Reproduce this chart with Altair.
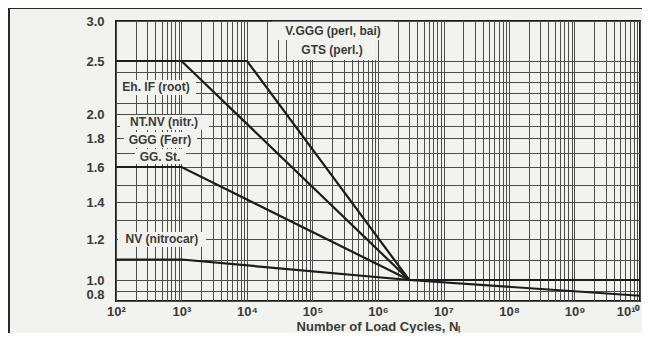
import altair as alt
import pandas as pd

# ---- curve data (number of load cycles N_L, life factor Y_NT) ----
top_N = [1e2, 1e4, 3e6]          # St, V, GGG (perl, bai), GTS (perl.)
top_Y = [2.5, 2.5, 1.0]
root_N = [1e2, 1e3, 3e6]         # Eh, IF (root)
root_Y = [2.5, 2.5, 1.0]
nitr_N = [1e2, 1e3, 3e6]         # NT, NV (nitr.), GGG (ferr), GG, St
nitr_Y = [1.6, 1.6, 1.0]
nitrocar_N = [1e2, 1e3, 3e6]     # NV (nitrocar)
nitrocar_Y = [1.1, 1.1, 1.0]
opt_N = [3e6, 1e10]              # long life, optimum
opt_Y = [1.0, 1.0]
std_N = [3e6, 1e10]              # long life, standard
std_Y = [1.0, 0.85]

rows = []
for name, ns, ys in [("top", top_N, top_Y), ("root", root_N, root_Y),
                     ("nitr", nitr_N, nitr_Y), ("nitrocar", nitrocar_N, nitrocar_Y),
                     ("opt", opt_N, opt_Y), ("std", std_N, std_Y)]:
    for n, y in zip(ns, ys):
        rows.append({"series": name, "N": n, "Y": y})
df = pd.DataFrame(rows)

# ---- annotation labels (text, anchor, white box extents) ----
ann_text = ["V.GGG (perl, bai)", "GTS (perl.)", "Eh. IF (root)", "NT.NV (nitr.)",
            "GGG (Ferr)", "GG. St.", "NV (nitrocar)"]
ann_x = [205600, 198600, 408, 541, 470, 470, 503]
ann_y = [2.875, 2.6375, 2.255, 1.933, 1.786, 1.669, 1.2]
box_x0 = [24100, 45300, 103.6, 115, 132, 195, 107]
box_x1 = [1754000, 931000, 1663, 2630, 1725, 1172, 2366]
box_y0 = [2.7625, 2.5125, 2.179, 1.867, 1.731, 1.621, 1.161]
box_y1 = [2.99, 2.7625, 2.321, 1.992, 1.85, 1.724, 1.238]
ann = pd.DataFrame({"label": ann_text, "x": ann_x, "y": ann_y,
                    "x0": box_x0, "x1": box_x1, "y0": box_y0, "y1": box_y1})

# ---- axes ----
decades = [1e2, 1e3, 1e4, 1e5, 1e6, 1e7, 1e8, 1e9, 1e10]
minor_mult = [1, 2, 3, 4, 5, 6, 7, 8, 9]
x_grid = [m * d for d in decades[:-1] for m in minor_mult] + [decades[-1]]
y_labels = [0.8, 1.0, 1.2, 1.4, 1.6, 1.8, 2.0, 2.5, 3.0]
y_grid = [0.8, 0.9, 1.0, 1.1, 1.2, 1.3, 1.4, 1.5, 1.6, 1.7, 1.8, 1.9, 2.0,
          2.1, 2.2, 2.3, 2.4, 2.5, 3.0]
# pixel positions of the non-uniform printed y scale (from bottom=280 to top=0)
y_range_px = [280, 259, 218, 181, 146, 117, 93, 40, 0]

FONT = "Liberation Sans"
TXT = "#3a3a3a"
BG = "#f2f2ef"
GRID = "#4d4d4d"

xscale = alt.Scale(type="log", domain=[1e2, 1e10], nice=False)
yscale = alt.Scale(type="linear", domain=y_labels, range=y_range_px, nice=False, zero=False)

sup = "['','','10²','10³','10⁴','10⁵','10⁶','10⁷','10⁸','10⁹','10¹⁰']"
x_label_expr = ("abs(log(datum.value)/LN10 - round(log(datum.value)/LN10)) < 1e-6 ? "
                + sup + "[round(log(datum.value)/LN10)] : ''")
y_label_expr = ("indexof([" + ",".join(str(v) for v in y_labels) + "], datum.value) >= 0 ? "
                "format(datum.value, '.1f') : ''")

xaxis = alt.Axis(values=x_grid, labelExpr=x_label_expr, grid=True, gridColor=GRID,
                 gridWidth=1, gridOpacity=1, ticks=False, domain=False, labelPadding=4,
                 labelFont=FONT, labelFontSize=13, labelFontWeight="bold", labelColor=TXT,
                 labelOverlap=False,
                 labelAlign={"condition": {"test": "datum.value >= 1e10", "value": "right"},
                             "value": "center"},
                 title="Number of Load Cycles, Nₗ", titleFont=FONT, titleFontSize=13,
                 titleFontWeight="bold", titleColor=TXT, titleBaseline="alphabetic",
                 titleY=29)
yaxis = alt.Axis(values=y_grid, labelExpr=y_label_expr, grid=True, gridColor=GRID,
                 gridWidth=1, gridOpacity=1, ticks=False, domain=False, labelPadding=12,
                 labelFont=FONT, labelFontSize=13, labelFontWeight="bold", labelColor=TXT,
                 labelOverlap=False,
                 labelBaseline={"condition": {"test": "datum.value < 0.85", "value": "bottom"},
                                "value": "middle"},
                 title=None)

boxes = alt.Chart(ann).mark_rect(fill=BG, strokeWidth=0).encode(
    x=alt.X("x0:Q", scale=xscale, axis=xaxis),
    x2="x1:Q",
    y=alt.Y("y0:Q", scale=yscale, axis=yaxis),
    y2="y1:Q",
)

lines = alt.Chart(df).mark_line(color="#1c1c1c", strokeWidth=2.2).encode(
    x=alt.X("N:Q", scale=xscale, axis=xaxis),
    y=alt.Y("Y:Q", scale=yscale, axis=yaxis),
    detail="series:N",
)

texts = alt.Chart(ann).mark_text(font=FONT, fontSize=12, fontWeight="bold", color=TXT).encode(
    x=alt.X("x:Q", scale=xscale, axis=xaxis),
    y=alt.Y("y:Q", scale=yscale, axis=yaxis),
    text="label:N",
)

frame = alt.Chart(pd.DataFrame({"k": [0]})).mark_rect(
    fillOpacity=0, stroke="#2a2a2a", strokeWidth=2
).encode(x=alt.value(-107), x2=alt.value(560), y=alt.value(-13), y2=alt.value(330))

chart = alt.layer(boxes, lines, texts, frame).properties(
    width=524, height=280,
    autosize=alt.AutoSizeParams(type="none"),
    padding={"left": 108, "top": 13, "right": 2, "bottom": 32},
    background=BG,
).configure_view(stroke="#1c1c1c", strokeWidth=2)

chart.save("out.html", embed_options={"renderer": "svg", "actions": False})
